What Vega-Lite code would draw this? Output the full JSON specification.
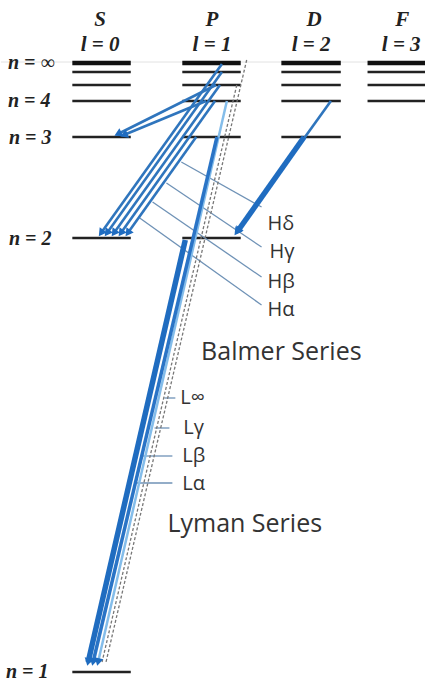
{
  "$schema": "https://vega.github.io/schema/vega-lite/v6.json",
  "width": 428,
  "height": 683,
  "autosize": {"type": "fit", "contains": "padding"},
  "padding": 0,
  "background": "white",
  "config": {"view": {"stroke": null}},
  "datasets": {
    "guide": [{"x1": 0, "x2": 428, "y": 62}],
    "levels": [
      {"col": "S", "n": "inf", "x1": 72, "x2": 131, "y": 63},
      {"col": "P", "n": "inf", "x1": 183, "x2": 242, "y": 63},
      {"col": "D", "n": "inf", "x1": 283, "x2": 343, "y": 63},
      {"col": "F", "n": "inf", "x1": 370, "x2": 428, "y": 63},
      {"col": "S", "n": "6", "x1": 72, "x2": 131, "y": 72},
      {"col": "P", "n": "6", "x1": 183, "x2": 242, "y": 72},
      {"col": "D", "n": "6", "x1": 283, "x2": 343, "y": 72},
      {"col": "F", "n": "6", "x1": 370, "x2": 428, "y": 72},
      {"col": "S", "n": "5", "x1": 72, "x2": 131, "y": 85},
      {"col": "P", "n": "5", "x1": 183, "x2": 242, "y": 85},
      {"col": "D", "n": "5", "x1": 283, "x2": 343, "y": 85},
      {"col": "F", "n": "5", "x1": 370, "x2": 428, "y": 85},
      {"col": "S", "n": "4", "x1": 72, "x2": 131, "y": 101},
      {"col": "P", "n": "4", "x1": 183, "x2": 242, "y": 101},
      {"col": "D", "n": "4", "x1": 283, "x2": 343, "y": 101},
      {"col": "F", "n": "4", "x1": 370, "x2": 428, "y": 101},
      {"col": "S", "n": "3", "x1": 72, "x2": 131, "y": 137},
      {"col": "P", "n": "3", "x1": 183, "x2": 242, "y": 137},
      {"col": "D", "n": "3", "x1": 283, "x2": 343, "y": 137},
      {"col": "S", "n": "2", "x1": 72, "x2": 131, "y": 238},
      {"col": "P", "n": "2", "x1": 183, "x2": 242, "y": 238},
      {"col": "S", "n": "1", "x1": 72, "x2": 131, "y": 672}
    ],
    "tx": [
      {"series": "P-S3", "kind": "thin", "x1": 217, "y1": 85, "x2": 118, "y2": 134},
      {"series": "P-S3", "kind": "thin", "x1": 207, "y1": 101, "x2": 124, "y2": 135},
      {"series": "Balmer", "kind": "thin", "x1": 223, "y1": 64, "x2": 101, "y2": 233},
      {"series": "Balmer", "kind": "thin", "x1": 223, "y1": 72, "x2": 107, "y2": 233},
      {"series": "Balmer", "kind": "thin", "x1": 221, "y1": 85, "x2": 114, "y2": 233},
      {"series": "Balmer", "kind": "thin", "x1": 216, "y1": 101, "x2": 121, "y2": 233},
      {"series": "Balmer", "kind": "thin", "x1": 197, "y1": 137, "x2": 128, "y2": 233},
      {"series": "D-P2", "kind": "thin", "x1": 333, "y1": 101, "x2": 238, "y2": 232},
      {"series": "D-P2", "kind": "main", "x1": 306, "y1": 137, "x2": 239, "y2": 231},
      {"series": "Lyman", "kind": "dashed", "x1": 248, "y1": 60, "x2": 106, "y2": 662},
      {"series": "Lyman", "kind": "dashed", "x1": 238, "y1": 85, "x2": 102, "y2": 662},
      {"series": "Lyman", "kind": "light", "x1": 228, "y1": 101, "x2": 98, "y2": 662},
      {"series": "Lyman", "kind": "mid", "x1": 218, "y1": 137, "x2": 93, "y2": 662},
      {"series": "Lyman", "kind": "main", "x1": 186, "y1": 240, "x2": 88, "y2": 662},
      {"series": "Hd", "kind": "leader", "x1": 182, "y1": 162, "x2": 263, "y2": 207},
      {"series": "Hg", "kind": "leader", "x1": 167, "y1": 183, "x2": 263, "y2": 247},
      {"series": "Hb", "kind": "leader", "x1": 153, "y1": 202, "x2": 263, "y2": 277},
      {"series": "Ha", "kind": "leader", "x1": 140, "y1": 218, "x2": 263, "y2": 305},
      {"series": "Linf", "kind": "leader", "x1": 165, "y1": 398, "x2": 176, "y2": 398},
      {"series": "Lg", "kind": "leader", "x1": 155, "y1": 428, "x2": 170, "y2": 428},
      {"series": "Lb", "kind": "leader", "x1": 143, "y1": 456, "x2": 173, "y2": 456},
      {"series": "La", "kind": "leader", "x1": 137, "y1": 483, "x2": 173, "y2": 483}
    ],
    "labels": [
      {"group": "head", "text": "S", "x": 100, "y": 20},
      {"group": "head", "text": "l = 0", "x": 100, "y": 45},
      {"group": "head", "text": "P", "x": 213, "y": 20},
      {"group": "head", "text": "l = 1", "x": 213, "y": 45},
      {"group": "head", "text": "D", "x": 316, "y": 20},
      {"group": "head", "text": "l = 2", "x": 313, "y": 45},
      {"group": "head", "text": "F", "x": 405, "y": 20},
      {"group": "head", "text": "l = 3", "x": 404, "y": 45},
      {"group": "level", "text": "n = ∞", "x": 7, "y": 63},
      {"group": "level", "text": "n = 4", "x": 7, "y": 101},
      {"group": "level", "text": "n = 3", "x": 8, "y": 138},
      {"group": "level", "text": "n = 2", "x": 8, "y": 239},
      {"group": "level", "text": "n = 1", "x": 5, "y": 672},
      {"group": "greek", "text": "Hδ", "x": 269, "y": 224},
      {"group": "greek", "text": "Hγ", "x": 271, "y": 252},
      {"group": "greek", "text": "Hβ", "x": 269, "y": 282},
      {"group": "greek", "text": "Hα", "x": 269, "y": 310},
      {"group": "greek", "text": "L∞", "x": 181, "y": 398},
      {"group": "greek", "text": "Lγ", "x": 184, "y": 428},
      {"group": "greek", "text": "Lβ", "x": 183, "y": 456},
      {"group": "greek", "text": "Lα", "x": 183, "y": 484},
      {"group": "series", "text": "Balmer Series", "x": 202, "y": 352},
      {"group": "series", "text": "Lyman Series", "x": 168, "y": 524}
    ]
  },
  "layer": [
    {
      "data": {"name": "guide"},
      "mark": {"type": "rule", "stroke": "#e2e2e2", "strokeWidth": 1},
      "encoding": {
        "x": {"field": "x1", "type": "quantitative", "scale": {"domain": [0, 428], "nice": false, "zero": false}, "axis": null},
        "x2": {"field": "x2"},
        "y": {"field": "y", "type": "quantitative", "scale": {"domain": [0, 683], "nice": false, "zero": false, "reverse": true}, "axis": null}
      }
    },
    {
      "data": {"name": "levels"},
      "transform": [{"filter": "datum.n != 'inf'"}],
      "mark": {"type": "rule", "stroke": "#222222", "strokeWidth": 2.5},
      "encoding": {
        "x": {"field": "x1", "type": "quantitative", "axis": null},
        "x2": {"field": "x2"},
        "y": {"field": "y", "type": "quantitative", "axis": null}
      }
    },
    {
      "data": {"name": "levels"},
      "transform": [{"filter": "datum.n == 'inf'"}],
      "mark": {"type": "rule", "stroke": "#111111", "strokeWidth": 4.5},
      "encoding": {
        "x": {"field": "x1", "type": "quantitative", "axis": null},
        "x2": {"field": "x2"},
        "y": {"field": "y", "type": "quantitative", "axis": null}
      }
    },
    {
      "data": {"name": "tx"},
      "transform": [{"filter": "datum.kind == 'leader'"}],
      "mark": {"type": "rule", "stroke": "#6f92b6", "strokeWidth": 1.3},
      "encoding": {
        "x": {"field": "x1", "type": "quantitative", "axis": null},
        "y": {"field": "y1", "type": "quantitative", "axis": null},
        "x2": {"field": "x2"},
        "y2": {"field": "y2"}
      }
    },
    {
      "data": {"name": "tx"},
      "transform": [{"filter": "datum.kind == 'dashed'"}],
      "mark": {"type": "rule", "stroke": "#777777", "strokeWidth": 1.3, "strokeDash": [3, 2]},
      "encoding": {
        "x": {"field": "x1", "type": "quantitative", "axis": null},
        "y": {"field": "y1", "type": "quantitative", "axis": null},
        "x2": {"field": "x2"},
        "y2": {"field": "y2"}
      }
    },
    {
      "data": {"name": "tx"},
      "transform": [{"filter": "datum.kind == 'light'"}],
      "mark": {"type": "rule", "stroke": "#84bdea", "strokeWidth": 2.5},
      "encoding": {
        "x": {"field": "x1", "type": "quantitative", "axis": null},
        "y": {"field": "y1", "type": "quantitative", "axis": null},
        "x2": {"field": "x2"},
        "y2": {"field": "y2"}
      }
    },
    {
      "data": {"name": "tx"},
      "transform": [{"filter": "datum.kind == 'thin'"}],
      "mark": {"type": "rule", "stroke": "#2f75bd", "strokeWidth": 2.6},
      "encoding": {
        "x": {"field": "x1", "type": "quantitative", "axis": null},
        "y": {"field": "y1", "type": "quantitative", "axis": null},
        "x2": {"field": "x2"},
        "y2": {"field": "y2"}
      }
    },
    {
      "data": {"name": "tx"},
      "transform": [{"filter": "datum.kind == 'mid'"}],
      "mark": {"type": "rule", "stroke": "#2a74c6", "strokeWidth": 3.5},
      "encoding": {
        "x": {"field": "x1", "type": "quantitative", "axis": null},
        "y": {"field": "y1", "type": "quantitative", "axis": null},
        "x2": {"field": "x2"},
        "y2": {"field": "y2"}
      }
    },
    {
      "data": {"name": "tx"},
      "transform": [{"filter": "datum.kind == 'main'"}],
      "mark": {"type": "rule", "stroke": "#1f6cc0", "strokeWidth": 5.5},
      "encoding": {
        "x": {"field": "x1", "type": "quantitative", "axis": null},
        "y": {"field": "y1", "type": "quantitative", "axis": null},
        "x2": {"field": "x2"},
        "y2": {"field": "y2"}
      }
    },
    {
      "data": {"name": "tx"},
      "transform": [
        {"filter": "datum.kind == 'main' || datum.kind == 'mid' || datum.kind == 'thin' || datum.kind == 'light'"},
        {"calculate": "atan2(datum.x2 - datum.x1, -(datum.y2 - datum.y1)) * 180 / PI", "as": "dir"}
      ],
      "mark": {"type": "point", "shape": "triangle-up", "filled": true, "size": 80, "color": "#1f6cc0", "opacity": 1},
      "encoding": {
        "x": {"field": "x2", "type": "quantitative", "axis": null},
        "y": {"field": "y2", "type": "quantitative", "axis": null},
        "angle": {"field": "dir", "type": "quantitative", "scale": null}
      }
    },
    {
      "data": {"name": "labels"},
      "transform": [{"filter": "datum.group == 'head'"}],
      "mark": {"type": "text", "font": "Liberation Serif", "fontStyle": "italic", "fontWeight": "bold", "fontSize": 21, "align": "center", "baseline": "middle", "color": "#222222"},
      "encoding": {
        "x": {"field": "x", "type": "quantitative", "axis": null},
        "y": {"field": "y", "type": "quantitative", "axis": null},
        "text": {"field": "text"}
      }
    },
    {
      "data": {"name": "labels"},
      "transform": [{"filter": "datum.group == 'level'"}],
      "mark": {"type": "text", "font": "Liberation Serif", "fontStyle": "italic", "fontWeight": "bold", "fontSize": 20, "align": "left", "baseline": "middle", "color": "#222222"},
      "encoding": {
        "x": {"field": "x", "type": "quantitative", "axis": null},
        "y": {"field": "y", "type": "quantitative", "axis": null},
        "text": {"field": "text"}
      }
    },
    {
      "data": {"name": "labels"},
      "transform": [{"filter": "datum.group == 'greek'"}],
      "mark": {"type": "text", "font": "Open Sans", "fontSize": 20, "align": "left", "baseline": "middle", "color": "#333333"},
      "encoding": {
        "x": {"field": "x", "type": "quantitative", "axis": null},
        "y": {"field": "y", "type": "quantitative", "axis": null},
        "text": {"field": "text"}
      }
    },
    {
      "data": {"name": "labels"},
      "transform": [{"filter": "datum.group == 'series'"}],
      "mark": {"type": "text", "font": "Open Sans", "fontSize": 25, "align": "left", "baseline": "middle", "color": "#333333"},
      "encoding": {
        "x": {"field": "x", "type": "quantitative", "axis": null},
        "y": {"field": "y", "type": "quantitative", "axis": null},
        "text": {"field": "text"}
      }
    }
  ]
}
